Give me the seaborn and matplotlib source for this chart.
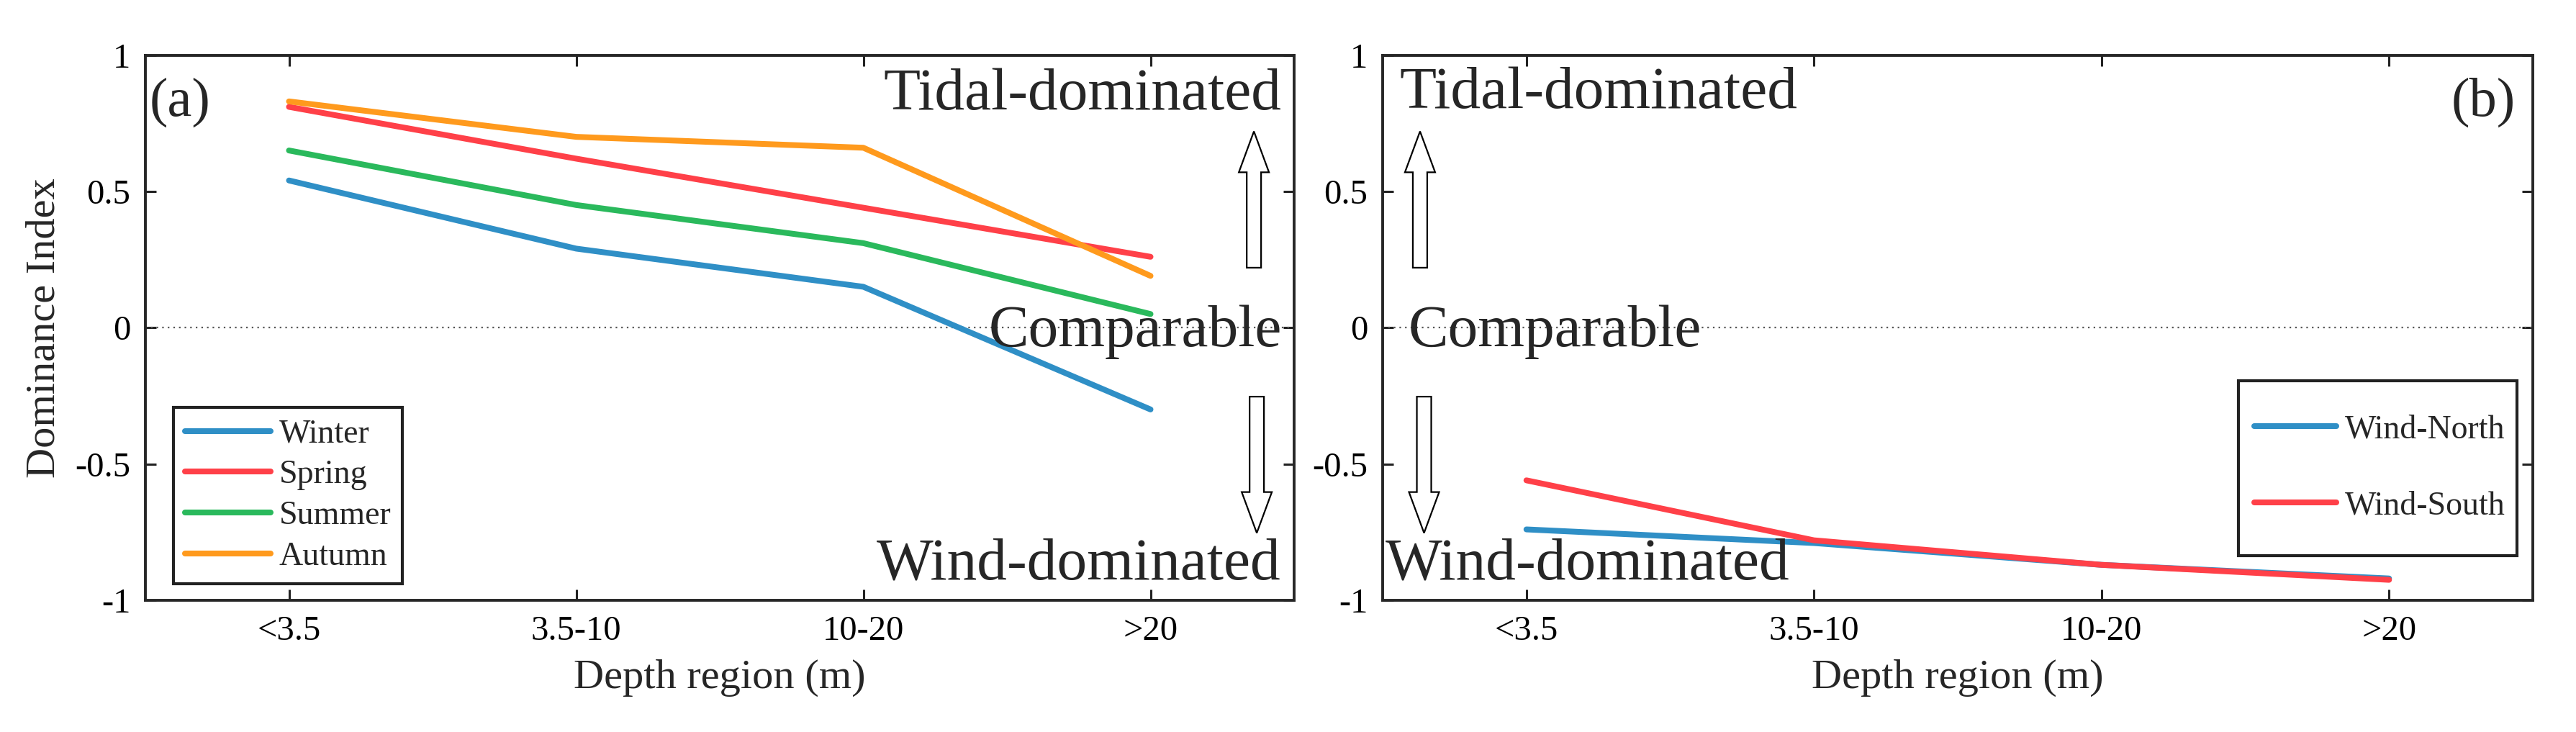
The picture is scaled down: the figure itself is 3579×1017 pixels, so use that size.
import numpy as np
import pandas as pd
import matplotlib
matplotlib.use("Agg")
import matplotlib.pyplot as plt
from matplotlib.lines import Line2D
from matplotlib.patches import FancyArrow, Rectangle
import seaborn as sns

# ---------------- data ----------------
categories = ['<3.5', '3.5-10', '10-20', '>20']
season_names = ['Winter', 'Spring', 'Summer', 'Autumn']
winter = [0.54, 0.29, 0.15, -0.30]
spring = [0.81, 0.62, 0.44, 0.26]
summer = [0.65, 0.45, 0.31, 0.05]
autumn = [0.83, 0.70, 0.66, 0.19]
wind_names = ['Wind-North', 'Wind-South']
wind_north = [-0.74, -0.79, -0.87, -0.92]
wind_south = [-0.56, -0.78, -0.87, -0.925]
yticks = [-1, -0.5, 0, 0.5, 1]
ytick_labels = ['-1', '-0.5', '0', '0.5', '1']

season_colors = ['#2f8fc6', '#ff4048', '#2ab95c', '#ff9a1d']
wind_colors = ['#2f8fc6', '#ff4048']

df_a = pd.DataFrame({
    'Depth': categories * 4,
    'DI': winter + spring + summer + autumn,
    'Season': sum([[s] * 4 for s in season_names], []),
})
df_b = pd.DataFrame({
    'Depth': categories * 2,
    'DI': wind_north + wind_south,
    'Wind': sum([[s] * 4 for s in wind_names], []),
})

# ---------------- style ----------------
sns.set_style('ticks')
plt.rcParams['font.family'] = ['Liberation Serif', 'DejaVu Serif']
plt.rcParams['axes.unicode_minus'] = False
plt.rcParams['mathtext.fontset'] = 'stix'

W, H = 3579, 1017
fig = plt.figure(figsize=(W / 100, H / 100), dpi=100)
top_px, bot_px = 76.5, 834
ax1 = fig.add_axes([202 / W, 1 - bot_px / H, (1798 - 202) / W, (bot_px - top_px) / H])
ax2 = fig.add_axes([1921 / W, 1 - bot_px / H, (3519 - 1921) / W, (bot_px - top_px) / H])

LW = 5.8
TICK_FS = 35
LABEL_FS = 42
BIG_FS = 60

sns.lineplot(data=df_a, x='Depth', y='DI', hue='Season', hue_order=season_names,
             palette=season_colors, sort=False, linewidth=LW, legend=False, ax=ax1,
             zorder=3)
sns.lineplot(data=df_b, x='Depth', y='DI', hue='Wind', hue_order=wind_names,
             palette=wind_colors, sort=False, linewidth=LW, legend=False, ax=ax2,
             zorder=3)


def style_axes(ax, ylabel):
    ax.set_xlim(-0.5, 3.5)
    ax.set_ylim(-1, 1)
    ax.set_xticks(range(len(categories)))
    ax.set_xticklabels(categories)
    ax.set_yticks(yticks)
    ax.set_yticklabels(ytick_labels)
    ax.axhline(0, ls=(0, (1, 2.5)), color='#555555', lw=1.6, zorder=1)
    ax.tick_params(direction='in', length=11, width=2.2, labelsize=TICK_FS,
                   top=True, right=True, pad=15, colors='#222222', labelcolor='black')
    for sp in ax.spines.values():
        sp.set_linewidth(2.8)
        sp.set_color('#262626')
        sp.set_visible(True)
    ax.set_xlabel('Depth region (m)', fontsize=LABEL_FS)
    ax.xaxis.set_label_coords(0.5, -0.108)
    if ylabel:
        ax.set_ylabel(ylabel, fontsize=LABEL_FS)
        ax.yaxis.set_label_coords(-0.072, 0.5)
    else:
        ax.set_ylabel('')


style_axes(ax1, 'Dominance Index')
style_axes(ax2, None)


def block_arrow(ax, x, y0, y1):
    ax.add_patch(FancyArrow(x, y0, 0, y1 - y0, width=0.05, head_width=0.105,
                            head_length=0.15, length_includes_head=True,
                            fc='white', ec='black', lw=1.6, zorder=4))


# panel (a) annotations
ax1.text(-0.486, 0.825, '(a)', fontsize=55, ha='left', va='center')
ax1.text(3.455, 0.80, 'Tidal-dominated', fontsize=BIG_FS, ha='right', va='baseline', zorder=5)
ax1.text(3.457, -0.067, 'Comparable', fontsize=BIG_FS, ha='right', va='baseline', zorder=5)
ax1.text(3.455, -0.922, 'Wind-dominated', fontsize=BIG_FS, ha='right', va='baseline', zorder=5)
block_arrow(ax1, 3.36, 0.22, 0.72)
block_arrow(ax1, 3.37, -0.253, -0.753)

# panel (b) annotations
ax2.text(3.44, 0.825, '(b)', fontsize=55, ha='right', va='center')
ax2.text(-0.441, 0.805, 'Tidal-dominated', fontsize=BIG_FS, ha='left', va='baseline', zorder=5)
ax2.text(-0.412, -0.067, 'Comparable', fontsize=BIG_FS, ha='left', va='baseline', zorder=5)
ax2.text(-0.49, -0.922, 'Wind-dominated', fontsize=BIG_FS, ha='left', va='baseline', zorder=5)
block_arrow(ax2, -0.37, 0.22, 0.72)
block_arrow(ax2, -0.356, -0.253, -0.753)

# legends
h_a = [Line2D([], [], color=c, lw=LW) for c in season_colors]
leg_a = ax1.legend(h_a, season_names, loc='upper left',
                   bbox_to_anchor=((241 - 202) / 1596, (bot_px - 566) / (bot_px - top_px)),
                   borderaxespad=0, fontsize=33, handlelength=2.6, handletextpad=0.25,
                   labelspacing=0.31, borderpad=0.35, fancybox=False, framealpha=1,
                   edgecolor='#222222')
leg_a.get_frame().set_linewidth(3.0)

h_b = [Line2D([], [], color=c, lw=LW) for c in wind_colors]
leg_b = ax2.legend(h_b, wind_names, loc='center', bbox_to_anchor=(0.8667, 0.243),
                   borderaxespad=0, fontsize=33, handlelength=2.5, handletextpad=0.25,
                   labelspacing=1.38, borderpad=0, frameon=False)
ax2.add_patch(Rectangle(((3110 - 1921) / 1598, (bot_px - 772) / (bot_px - top_px)),
                        (3497 - 3110) / 1598, (772 - 528.5) / (bot_px - top_px),
                        transform=ax2.transAxes, fill=False, ec='#222222', lw=3.0,
                        zorder=6))

fig.savefig('out.png', dpi=100, facecolor='white')
